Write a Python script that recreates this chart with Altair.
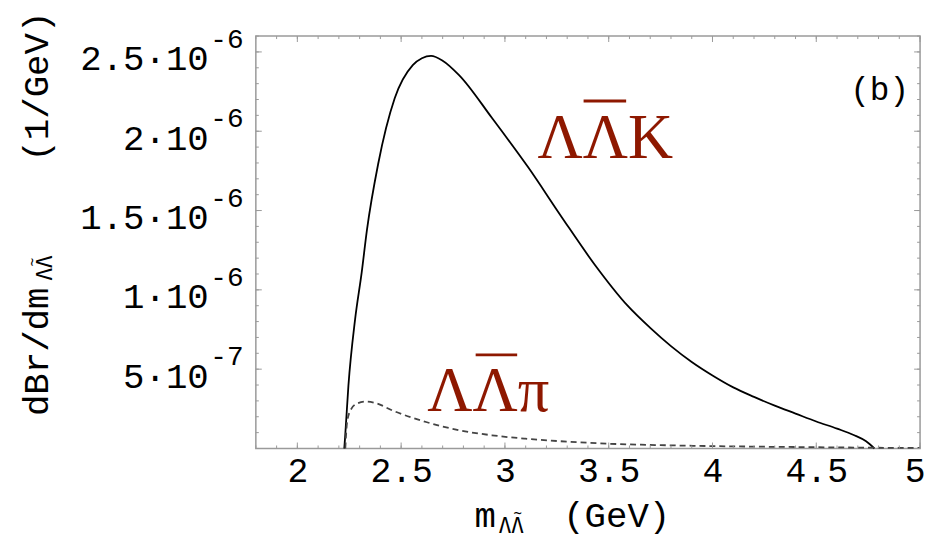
import altair as alt
import pandas as pd

# ---- data (y values in units of 1e-6 GeV^-1) ----
k_m = [2.226, 2.230, 2.246, 2.278, 2.310, 2.335, 2.389, 2.469, 2.556, 2.600,
       2.644, 2.700, 2.779, 2.938, 3.113, 3.273, 3.432, 3.591, 3.700, 3.800,
       3.900, 4.000, 4.100, 4.200, 4.300, 4.400, 4.500, 4.600, 4.680, 4.740, 4.780]
k_br = [0.0, 0.07, 0.396, 0.8125, 1.110, 1.375, 1.792, 2.208, 2.417, 2.460,
        2.475, 2.445, 2.354, 2.083, 1.771, 1.460, 1.160, 0.900, 0.760, 0.645,
        0.545, 0.460, 0.385, 0.325, 0.270, 0.220, 0.170, 0.125, 0.085, 0.045, 0.0]

pi_m = [2.231, 2.240, 2.260, 2.290, 2.330, 2.380, 2.461, 2.620, 2.779, 2.938,
        3.098, 3.300, 3.500, 3.750, 4.000, 4.250, 4.500, 4.750, 5.000]
pi_br = [0.0, 0.17, 0.25, 0.285, 0.296, 0.285, 0.238, 0.167, 0.115, 0.083,
         0.062, 0.043, 0.030, 0.021, 0.015, 0.011, 0.008, 0.005, 0.003]

x_ticks = [2.0, 2.5, 3.0, 3.5, 4.0, 4.5, 5.0]
x_minor = [round(1.8 + 0.1 * i, 2) for i in range(33)]
y_ticks = [0.5, 1.0, 1.5, 2.0, 2.5]
y_minor = [round(0.1 * i, 2) for i in range(27)]
y_sup = ["-7", "-6", "-6", "-6", "-6"]

# annotations (data coordinates)
lab_text = ["ΛΛK", "ΛΛπ"]
lab_x = [3.484, 2.920]
lab_y = [1.833, 0.239]
bar_x1 = [3.379, 2.859]
bar_x2 = [3.584, 3.059]
bar_y = [2.19, 0.59]
panel_text = ["(b)"]
panel_x = [4.805]
panel_y = [2.194]

W, H = 670, 416
FRAME = "#9a9a9a"
MONO = "Liberation Mono"
RED = "#8e1800"

xs = alt.Scale(domain=[1.8, 5.0], nice=False, zero=False)
ys = alt.Scale(domain=[0, 2.6], nice=False, zero=False)

x_axis = alt.Axis(values=x_ticks, labelFont=MONO, labelFontSize=35, labelColor="black",
                  labelPadding=5, tickSize=0, ticks=False, domain=False, grid=False,
                  labelFlush=True, labelFlushOffset=5, labelOverlap=False, labelBaseline="top",
                  labelExpr="datum.value == 2 ? '2' : datum.value == 3 ? '3' : datum.value == 4 ? '4' : datum.value == 5 ? '5' : datum.label",
                  title="m", titleFont=MONO, titleFontSize=36,
                  titleFontWeight="normal", titleColor="black", titleAnchor="start",
                  titleAlign="left", titleBaseline="alphabetic", titleX=220, titleY=79)
y_axis = alt.Axis(values=y_ticks, labelFont=MONO, labelFontSize=36, labelColor="black",
                  labelPadding=48, tickSize=0, ticks=False, domain=False, grid=False,
                  labelFlush=False, labelOverlap=False, labelAlign="right",
                  labelBaseline="middle", labelOffset=7,
                  labelExpr="datum.value == 0.5 ? '5·10' : datum.value + '·10'",
                  title="dBr/dm", titleFont=MONO, titleFontSize=36,
                  titleFontWeight="normal", titleColor="black", titleAngle=270,
                  titleAlign="center", titleBaseline="alphabetic", titleX=-210, titleY=318)

df_k = pd.DataFrame({"m": k_m, "br": k_br})
df_pi = pd.DataFrame({"m": pi_m, "br": pi_br})

line_k = alt.Chart(df_k).mark_line(color="black", strokeWidth=1.8, interpolate="monotone").encode(
    x=alt.X("m:Q", scale=xs, axis=x_axis),
    y=alt.Y("br:Q", scale=ys, axis=y_axis),
)
line_pi = alt.Chart(df_pi).mark_line(color="#444444", strokeWidth=1.8, strokeDash=[6, 4],
                                     interpolate="monotone").encode(
    x=alt.X("m:Q", scale=xs), y=alt.Y("br:Q", scale=ys))


def xticks(vals, length, side):
    d = pd.DataFrame({"v": vals})
    y, y2 = (H, H - length) if side == "bottom" else (0, length)
    return alt.Chart(d).mark_rule(color=FRAME, strokeWidth=1).encode(
        x=alt.X("v:Q", scale=xs), y=alt.value(y), y2=alt.value(y2))


def yticks(vals, length, side):
    d = pd.DataFrame({"v": vals})
    x, x2 = (0, length) if side == "left" else (W, W - length)
    return alt.Chart(d).mark_rule(color=FRAME, strokeWidth=1).encode(
        y=alt.Y("v:Q", scale=ys), x=alt.value(x), x2=alt.value(x2))


ticks = [xticks(x_minor, 3, "bottom"), xticks(x_ticks, 6, "bottom"),
         xticks(x_minor, 3, "top"), xticks(x_ticks, 6, "top"),
         yticks(y_minor, 3, "left"), yticks(y_ticks, 6, "left"),
         yticks(y_minor, 3, "right"), yticks(y_ticks, 6, "right")]

sup = alt.Chart(pd.DataFrame({"v": y_ticks, "t": y_sup})).mark_text(
    font=MONO, fontSize=28, align="left", baseline="middle", dy=-12, color="black").encode(
    y=alt.Y("v:Q", scale=ys), x=alt.value(-46), text="t:N")

labels = alt.Chart(pd.DataFrame({"x": lab_x, "y": lab_y, "t": lab_text})).mark_text(
    font="Liberation Serif", fontSize=63, align="center", baseline="alphabetic", color=RED).encode(
    x=alt.X("x:Q", scale=xs), y=alt.Y("y:Q", scale=ys), text="t:N")

bars = alt.Chart(pd.DataFrame({"x1": bar_x1, "x2": bar_x2, "y": bar_y})).mark_rule(
    color=RED, strokeWidth=3).encode(
    x=alt.X("x1:Q", scale=xs), x2="x2:Q", y=alt.Y("y:Q", scale=ys))

panel = alt.Chart(pd.DataFrame({"x": panel_x, "y": panel_y, "t": panel_text})).mark_text(
    font=MONO, fontSize=33, align="center", baseline="alphabetic",
    color="black").encode(x=alt.X("x:Q", scale=xs), y=alt.Y("y:Q", scale=ys), text="t:N")

# unit parts of the axis titles and the ΛΛ̄ subscripts
unit_x = alt.Chart(pd.DataFrame({"t": ["(GeV)"]})).mark_text(
    font=MONO, fontSize=36, align="left", baseline="alphabetic", color="black").encode(
    x=alt.value(310), y=alt.value(495), text="t:N")
unit_y = alt.Chart(pd.DataFrame({"t": ["(1/GeV)"]})).mark_text(
    font=MONO, fontSize=36, align="center", baseline="alphabetic", angle=270, color="black").encode(
    x=alt.value(-210), y=alt.value(51), text="t:N")

SUBF = "DejaVu Sans Mono"
sub_x = alt.Chart(pd.DataFrame({"t": ["ΛΛ"]})).mark_text(
    font=SUBF, fontSize=21, align="left", baseline="alphabetic", color="black").encode(
    x=alt.value(245), y=alt.value(501), text="t:N")
sub_x_bar = alt.Chart(pd.DataFrame({"t": ["~"]})).mark_text(
    font=SUBF, fontSize=14, align="center", baseline="alphabetic", color="black").encode(
    x=alt.value(264), y=alt.value(486), text="t:N")
sub_y = alt.Chart(pd.DataFrame({"t": ["ΛΛ"]})).mark_text(
    font=SUBF, fontSize=21, align="center", baseline="alphabetic", angle=270,
    color="black").encode(x=alt.value(-206), y=alt.value(234), text="t:N")
sub_y_bar = alt.Chart(pd.DataFrame({"t": ["~"]})).mark_text(
    font=SUBF, fontSize=14, align="center", baseline="alphabetic", angle=270,
    color="black").encode(x=alt.value(-221), y=alt.value(228), text="t:N")

chart = alt.layer(line_k, line_pi, *ticks, sup, labels, bars, panel,
                  unit_x, unit_y, sub_x, sub_x_bar, sub_y, sub_y_bar).properties(
    width=W, height=H,
    autosize=alt.AutoSizeParams(type="none"),
    padding={"left": 250, "top": 26, "right": 7, "bottom": 88},
).configure_view(stroke=FRAME, strokeWidth=1.5)

chart.save("out.html", embed_options={"renderer": "svg", "actions": False})
